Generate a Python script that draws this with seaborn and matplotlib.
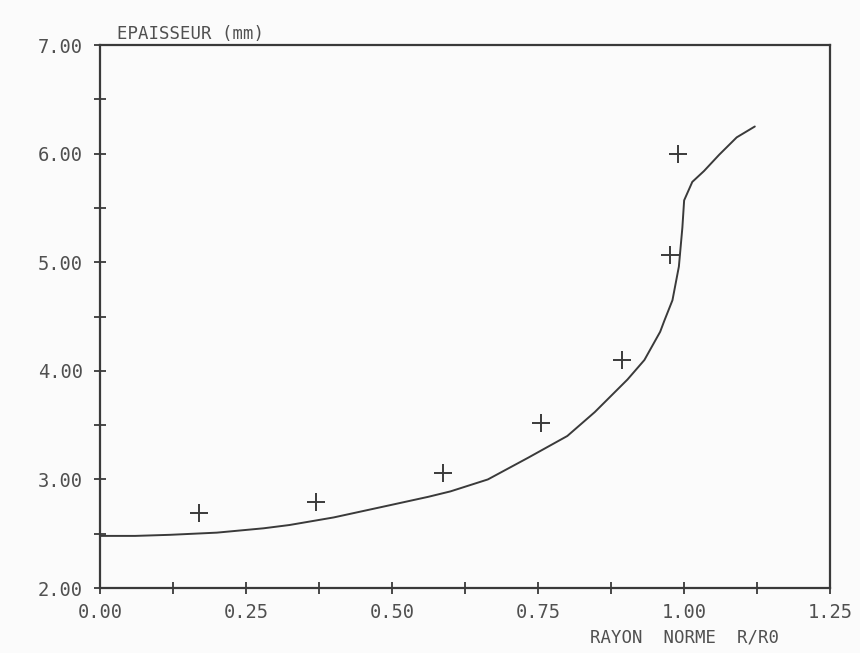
import pandas as pd
import seaborn as sns
import matplotlib.pyplot as plt
from matplotlib.ticker import MultipleLocator, FormatStrFormatter

# courbe calculee (epaisseur en fonction du rayon norme)
rayon_calc = [0.00, 0.06, 0.12, 0.20, 0.28, 0.324, 0.40, 0.494, 0.562, 0.60, 0.664,
              0.733, 0.80, 0.847, 0.903, 0.932, 0.959, 0.966, 0.980, 0.991, 0.997,
              1.000, 1.014, 1.034, 1.060, 1.090, 1.121]
epais_calc = [2.48, 2.48, 2.49, 2.51, 2.55, 2.58, 2.65, 2.76, 2.84, 2.89, 3.00,
              3.20, 3.40, 3.62, 3.92, 4.10, 4.36, 4.46, 4.65, 4.96, 5.32,
              5.57, 5.74, 5.84, 5.99, 6.15, 6.25]

# points mesures
rayon_mes = [0.170, 0.370, 0.588, 0.755, 0.893, 0.975, 0.990]
epais_mes = [2.69, 2.79, 3.06, 3.52, 4.10, 5.07, 6.00]

df_calc = pd.DataFrame({'rayon': rayon_calc, 'epaisseur': epais_calc})
df_mes = pd.DataFrame({'rayon': rayon_mes, 'epaisseur': epais_mes})

sns.set_style("white")
plt.rcParams['font.family'] = ['DejaVu Sans Mono']

ink = '#3a3a3a'
txt = '#505050'

fig = plt.figure(figsize=(8.6, 6.53), dpi=100)
fig.patch.set_facecolor('#fbfbfb')
ax = fig.add_axes([0.1163, 0.0995, 0.849, 0.8315])
ax.set_facecolor('#fbfbfb')

sns.lineplot(data=df_calc, x='rayon', y='epaisseur', sort=False, color=ink,
             linewidth=1.4, ax=ax)
sns.scatterplot(data=df_mes, x='rayon', y='epaisseur', marker='+', s=160,
                color=ink, linewidth=1.4, ax=ax)

ax.set_xlim(0, 1.25)
ax.set_ylim(2, 7)
ax.xaxis.set_major_locator(MultipleLocator(0.25))
ax.xaxis.set_minor_locator(MultipleLocator(0.125))
ax.yaxis.set_major_locator(MultipleLocator(1))
ax.yaxis.set_minor_locator(MultipleLocator(0.5))
ax.xaxis.set_major_formatter(FormatStrFormatter('%.2f'))
ax.yaxis.set_major_formatter(FormatStrFormatter('%.2f'))

for s in ax.spines.values():
    s.set_color(ink)
    s.set_linewidth(1.6)

ax.tick_params(which='both', direction='inout', color=ink, width=1.3,
               length=9, labelcolor=txt, labelsize=13.5)
ax.tick_params(axis='x', which='both', bottom=True, top=False, pad=6)
ax.tick_params(axis='y', which='both', left=True, right=False, pad=8)

ax.set_xlabel('')
ax.set_ylabel('')
ax.text(0.023, 1.004, 'EPAISSEUR (mm)', transform=ax.transAxes, ha='left',
        va='bottom', fontsize=12.5, color=txt)
ax.text(0.93, -0.092, 'RAYON  NORME  R/R0', transform=ax.transAxes, ha='right',
        va='center', fontsize=12.5, color=txt)

fig.savefig('out.png', dpi=100, facecolor=fig.get_facecolor())
